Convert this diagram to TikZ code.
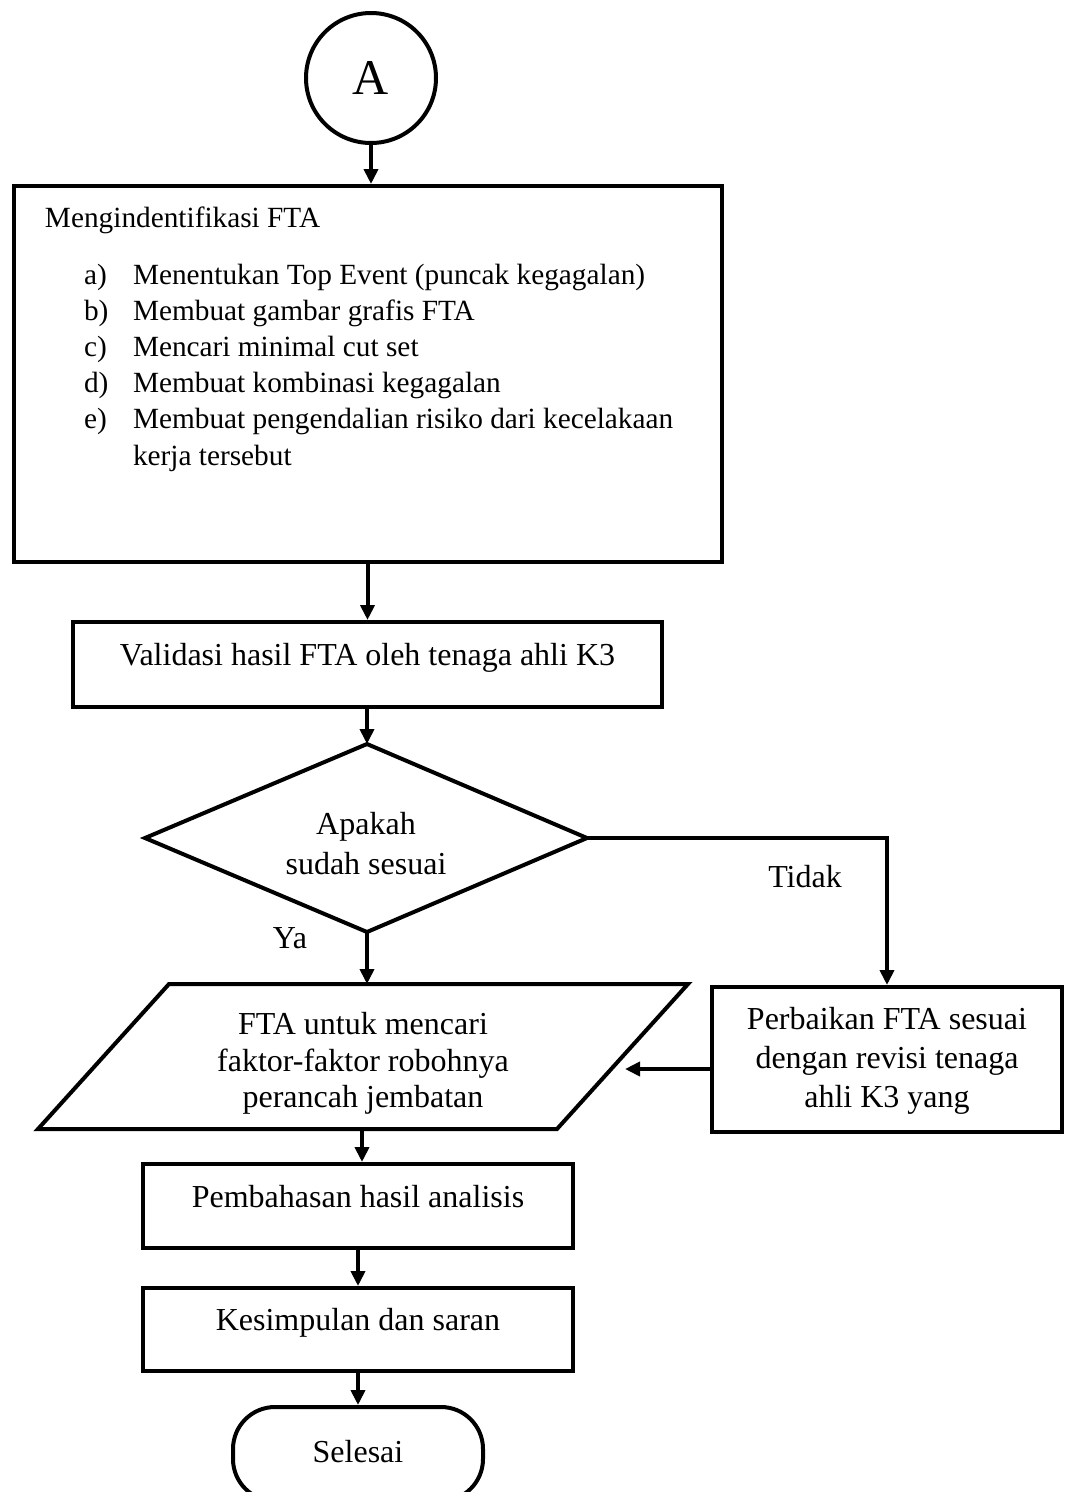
\documentclass[tikz,border=0pt]{standalone}
\usepackage{fontspec}
\setmainfont{Liberation Serif}
\usetikzlibrary{arrows.meta}
\begin{document}
\begin{tikzpicture}[x=1pt,y=-1pt,
  line width=4pt,
  flow/.style={-{Triangle[length=15pt,width=14pt]}, line width=4pt},
  box/.style={draw, rectangle, inner sep=0pt},
  lbl/.style={font=\fontsize{32}{40}\selectfont, inner sep=0pt, anchor=base},
  item/.style={font=\fontsize{29.3}{36}\selectfont, inner sep=0pt, anchor=base west}
]
\useasboundingbox (0,0) rectangle (1065,1492);

% start connector
\node[draw, circle, minimum size=130pt, inner sep=0pt,
      font=\fontsize{50}{60}\selectfont] (circA) at (371,78) {A};

% identification box with its list
\node[box, minimum width=708pt, minimum height=376pt] (fta) at (368,374) {};
\node[item] (ftaT) at (43,227) {Mengindentifikasi FTA};
\node[item] (la) at (82,284) {a)};
\node[item] (ta) at (131,284) {Menentukan Top Event (puncak kegagalan)};
\node[item] (lb) at (82,320.2) {b)};
\node[item] (tb) at (131,320.2) {Membuat gambar grafis FTA};
\node[item] (lc) at (82,356.4) {c)};
\node[item] (tc) at (131,356.4) {Mencari minimal cut set};
\node[item] (ld) at (82,392.6) {d)};
\node[item] (td) at (131,392.6) {Membuat kombinasi kegagalan};
\node[item] (le) at (82,428.8) {e)};
\node[item] (te) at (131,428.8) {Membuat pengendalian risiko dari kecelakaan};
\node[item] (te2) at (131,465) {kerja tersebut};

% validation
\node[box, minimum width=589pt, minimum height=85pt] (val) at (367.5,664.5) {};
\node[lbl] (valT) at (367.5,665) {Validasi hasil FTA oleh tenaga ahli K3};

% decision
\coordinate (dT) at (367,744);
\coordinate (dL) at (145,838);
\coordinate (dR) at (587,838);
\coordinate (dB) at (367,932);
\draw[line join=miter] (dT) -- (dR) -- (dB) -- (dL) -- cycle;
\node[lbl] (q1) at (366,834) {Apakah};
\node[lbl] (q2) at (366,874) {sudah sesuai};
\node[lbl] (ya) at (290,948) {Ya};
\node[lbl] (tidak) at (805,887) {Tidak};

% revision box
\node[box, minimum width=350pt, minimum height=145pt] (perb) at (887,1059.5) {};
\node[lbl] (p1) at (887,1029) {Perbaikan FTA sesuai};
\node[lbl] (p2) at (887,1068) {dengan revisi tenaga};
\node[lbl] (p3) at (887,1107) {ahli K3 yang};

% data (parallelogram)
\coordinate (pTL) at (169,984);
\coordinate (pTR) at (688,984);
\coordinate (pBR) at (557,1129);
\coordinate (pBL) at (38,1129);
\draw[line join=miter] (pTL) -- (pTR) -- (pBR) -- (pBL) -- cycle;
\coordinate (pTop) at (367,984);
\coordinate (pBot) at (362,1129);
\coordinate (pIn) at (625,1069);
\node[lbl] (d1) at (363,1034) {FTA untuk mencari};
\node[lbl] (d2) at (363,1071) {faktor-faktor robohnya};
\node[lbl] (d3) at (363,1107) {perancah jembatan};

% discussion, conclusion, end
\node[box, minimum width=430pt, minimum height=84pt] (bahas) at (358,1206) {};
\node[lbl] (bahasT) at (358,1207) {Pembahasan hasil analisis};
\node[box, minimum width=430pt, minimum height=83pt] (simp) at (358,1329.5) {};
\node[lbl] (simpT) at (358,1330) {Kesimpulan dan saran};
\node[draw, rectangle, rounded corners=42pt, minimum width=250pt, minimum height=94pt,
      inner sep=0pt] (end) at (358,1454) {};
\node[lbl] (endT) at (358,1462) {Selesai};

% connectors
\draw[flow] (circA.south) -- (circA.south |- fta.north);
\draw[flow] (fta.south -| val.north) -- (val.north);
\draw[flow] (val.south -| dT) -- (dT);
\draw[flow] (dB) -- (pTop);
\draw[line join=miter, flow] (dR) -- (dR -| perb.north) -- (perb.north);
\draw[flow] (perb.west |- pIn) -- (pIn);
\draw[flow] (pBot) -- (pBot |- bahas.north);
\draw[flow] (bahas.south) -- (simp.north);
\draw[flow] (simp.south) -- (end.north);
\end{tikzpicture}
\end{document}
